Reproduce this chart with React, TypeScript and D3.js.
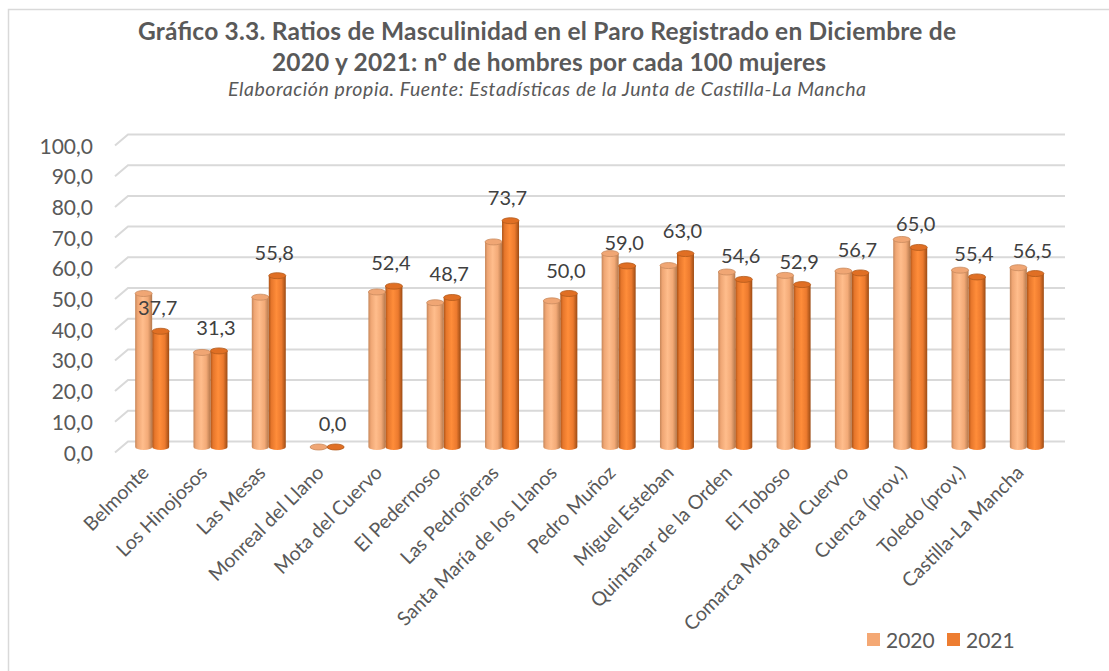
import React from "react";
import * as d3 from "d3";

const categories = [
  "Belmonte",
  "Los Hinojosos",
  "Las Mesas",
  "Monreal del Llano",
  "Mota del Cuervo",
  "El Pedernoso",
  "Las Pedroñeras",
  "Santa María de los Llanos",
  "Pedro Muñoz",
  "Miguel Esteban",
  "Quintanar de la Orden",
  "El Toboso",
  "Comarca Mota del Cuervo",
  "Cuenca (prov.)",
  "Toledo (prov.)",
  "Castilla-La Mancha",
];
const values2020 = [50.0, 30.8, 48.8, 0.0, 50.5, 47.0, 66.8, 47.6, 63.0, 59.1, 57.0, 55.9, 57.3, 67.6, 57.6, 58.4];
const values2021 = [37.7, 31.3, 55.8, 0.0, 52.4, 48.7, 73.7, 50.0, 59.0, 63.0, 54.6, 52.9, 56.7, 65.0, 55.4, 56.5];
const yTicks = [0, 10, 20, 30, 40, 50, 60, 70, 80, 90, 100];
const seriesNames = ["2020", "2021"];

const W = 1109;
const H = 671;
const DX = 6.5; // depth offset of the 3d floor
const DY = 5.5;
const fmt = (v: number) => v.toFixed(1).replace(".", ",");
const FONT = "Lato, 'Open Sans', sans-serif";
const TXT = "#595959";

export default function App() {
  const x = d3.scaleBand<string>().domain(categories).range([123, 1056]);
  const y = d3.scaleLinear().domain([0, 100]).range([447, 140]);
  const bw = 17;
  const ry = 3;

  const cylinder = (cx: number, v: number, grad: string, top: string, edge: string, key: string) => {
    const yt = y(v);
    const yb = y(0);
    const l = cx - bw / 2;
    const r = cx + bw / 2;
    const body = `M${l},${yt} L${l},${yb} A${bw / 2},${ry} 0 0 0 ${r},${yb} L${r},${yt} Z`;
    return (
      <g key={key}>
        <path d={body} fill={`url(#${grad})`} />
        <ellipse cx={cx} cy={yt} rx={bw / 2} ry={ry} fill={top} stroke={edge} strokeWidth={0.8} />
      </g>
    );
  };

  return (
    <svg width={W} height={H} style={{ position: "absolute", left: 0, top: 0, background: "#fff" }}>
      <defs>
        <linearGradient id="g2020" x1="0" x2="1" y1="0" y2="0">
          <stop offset="0%" stopColor="#c68659" />
          <stop offset="15%" stopColor="#efa674" />
          <stop offset="45%" stopColor="#ffbd8c" />
          <stop offset="75%" stopColor="#f3aa77" />
          <stop offset="100%" stopColor="#b5784c" />
        </linearGradient>
        <linearGradient id="g2021" x1="0" x2="1" y1="0" y2="0">
          <stop offset="0%" stopColor="#ad5418" />
          <stop offset="15%" stopColor="#e6762b" />
          <stop offset="45%" stopColor="#ff8d3a" />
          <stop offset="75%" stopColor="#ec7a2e" />
          <stop offset="100%" stopColor="#9c4b14" />
        </linearGradient>
      </defs>

      {/* outer frame, only left and top edges visible */}
      <rect x={8.5} y={9.5} width={W + 20} height={H + 20} fill="none" stroke="#d9d9d9" strokeWidth={1.5} />

      {/* titles */}
      <g fontFamily={FONT} fill={TXT} textAnchor="middle">
        <text x={547} y={40} fontSize={24.5} fontWeight="bold" textLength={818} lengthAdjust="spacing">
          Gráfico 3.3. Ratios de Masculinidad en el Paro Registrado en Diciembre de
        </text>
        <text x={549} y={71} fontSize={24.5} fontWeight="bold" textLength={554} lengthAdjust="spacing">
          2020 y 2021: nº de hombres por cada 100 mujeres
        </text>
        <text x={547} y={96} fontSize={19.5} fontStyle="italic" textLength={638} lengthAdjust="spacing">
          Elaboración propia. Fuente: Estadísticas de la Junta de Castilla-La Mancha
        </text>
      </g>

      {/* gridlines: back wall with a short diagonal on the side */}
      <g stroke="#d9d9d9" strokeWidth={2} fill="none">
        {yTicks.map((t) => (
          <path
            key={t}
            d={`M${128 - 2 * DX},${y(t) + DY} L${128},${y(t) - DY} L${1065},${y(t) - DY}`}
          />
        ))}
      </g>

      {/* y axis labels */}
      <g fontFamily={FONT} fontSize={21} fill={TXT} textAnchor="end">
        {yTicks.map((t) => (
          <text key={t} x={93} y={y(t) + DY + 8}>
            {fmt(t)}
          </text>
        ))}
      </g>

      {/* bars */}
      {categories.map((c, i) => {
        const cx = (x(c) as number) + x.bandwidth() / 2;
        return (
          <g key={c}>
            {cylinder(cx - bw / 2, values2020[i], "g2020", "#f0a674", "#c98a5e", "a")}
            {cylinder(cx + bw / 2, values2021[i], "g2021", "#e06f24", "#b35a1c", "b")}
          </g>
        );
      })}

      {/* data labels (2021 series only) */}
      <g fontFamily={FONT} fontSize={20} fill="#404040" textAnchor="middle">
        {categories.map((c, i) => {
          const cx = (x(c) as number) + x.bandwidth() / 2 + bw / 2 - 3;
          return (
            <text key={c} x={cx} y={y(values2021[i]) - 16}>
              {fmt(values2021[i])}
            </text>
          );
        })}
      </g>

      {/* category labels */}
      <g fontFamily={FONT} fontSize={19.5} fill={TXT} textAnchor="end">
        {categories.map((c) => {
          const cx = (x(c) as number) + x.bandwidth() / 2 - 2;
          const cy = 474;
          return (
            <text key={c} x={cx} y={cy} transform={`rotate(-45 ${cx} ${cy})`}>
              {c}
            </text>
          );
        })}
      </g>

      {/* legend */}
      <g fontFamily={FONT} fontSize={21} fill={TXT}>
        {seriesNames.map((s, i) => (
          <g key={s} transform={`translate(${867 + i * 80},633)`}>
            <rect width={13} height={13} fill={i === 0 ? "#f4a874" : "#ed7d31"} />
            <text x={19} y={14.5}>
              {s}
            </text>
          </g>
        ))}
      </g>
    </svg>
  );
}
